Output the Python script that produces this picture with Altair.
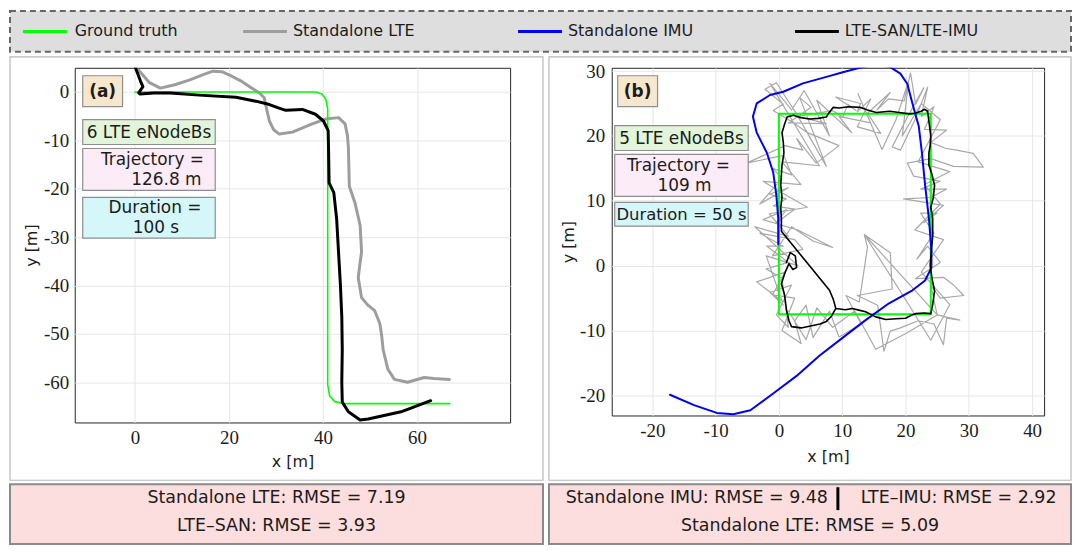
import altair as alt
import pandas as pd

SANS = "DejaVu Sans"
SERIF = "Liberation Serif"
INK = "#1c1c1c"

# ---------------- legend ----------------
legend_labels = ["Ground truth", "Standalone LTE", "Standalone IMU", "LTE-SAN/LTE-IMU"]
legend_colors = ["#00ff00", "#9d9d9d", "#0000ff", "#000000"]

# ---------------- panel (a) ----------------
gt_a_x = [0, 38.5, 39.8, 40.6, 41.0, 41.0, 41.4, 42.5, 44.5, 67.0]
gt_a_y = [0, 0, -0.4, -1.5, -3.5, -60.5, -62.8, -64.0, -64.4, -64.4]

lte_a_x = [0.8, 3.0, 5.4, 8.5, 11.7, 14.5, 16.6, 18.5, 20.1, 22.5, 24.4, 26.5, 27.5, 28.0,
           28.6, 29.5, 30.7, 33.5, 37.7, 40.5, 43.3, 44.7, 45.2, 45.4, 45.6, 46.8, 47.9, 48.2,
           47.8, 47.5, 48.2, 49.5, 51.0, 52.1, 52.5, 52.8, 53.8, 55.2, 58.0, 61.5, 63.6, 66.9]
lte_a_y = [4.5, 2.0, 0.8, 1.5, 2.5, 3.6, 4.3, 4.2, 3.5, 2.3, 1.1, -0.2, -1.2, -3.5,
           -6.0, -7.8, -8.7, -8.3, -6.6, -5.6, -5.3, -6.6, -9.0, -11.4, -19.5, -22.9, -27.6, -33.0,
           -36.0, -38.4, -42.5, -44.0, -45.2, -47.9, -50.5, -53.3, -57.3, -59.4, -60.0, -59.0, -59.2, -59.4]

san_a_x = [0.1, 0.7, 1.2, 1.7, 0.8, 1.1, 4.0, 7.5, 14.5, 21.5, 25.7, 28.6, 30.5, 32.1, 35.6,
           38.4, 40.1, 41.1, 41.2, 41.3, 42.3, 42.9, 43.3, 43.7, 44.0, 44.1, 44.0, 44.1, 45.4,
           47.9, 49.6, 56.6, 62.9]
san_a_y = [5.0, 3.5, 2.2, 1.1, -0.2, -0.4, -0.2, -0.2, -0.7, -1.1, -1.9, -2.6, -3.3, -3.8, -3.6,
           -4.6, -6.0, -8.0, -12.7, -18.8, -20.8, -26.2, -33.0, -39.8, -46.5, -53.3, -60.0, -64.1, -66.1,
           -67.8, -67.6, -66.1, -63.8]

# ---------------- panel (b) ----------------
gt_b_x = [0, 0, 24, 24, 0]
gt_b_y = [-7.5, 23.4, 23.4, -7.5, -7.5]

imu_b_x = [-17.2, -13.4, -9.8, -7.2, -4.5, -0.9, 2.8, 6.4, 10.1, 13.7, 17.4, 21.1, 23.1, 24.1,
           24.1, 23.7, 23.1, 22.6, 22.1, 21.1, 20.3, 19.2, 17.6, 15.5, 13.2, 10.1, 7.5, 3.8,
           0.7, -1.4, -3.5, -4.1, -3.5, -1.9, -0.9, -0.4, -0.1, -0.1]
imu_b_y = [-19.9, -21.5, -22.7, -22.9, -22.3, -19.7, -17.0, -13.9, -11.1, -8.4, -5.8, -3.8, -2.3, -0.3,
           2.3, 7.3, 12.4, 17.4, 21.5, 25.0, 28.0, 29.6, 30.6, 31.0, 30.6, 29.8, 29.1, 28.1,
           26.8, 26.3, 25.0, 23.0, 20.5, 17.4, 14.4, 10.9, 7.3, 3.3]

lte_b_x = [0.7, -1.4, 2.0, -0.4, 1.5, 0.5, -2.0, 1.5, -1.9, 0.7, -3.0, 2.5, 3.8, -1.0, 2.0, 5.4,
           8.5, 3.0, -2.5, 1.2, -0.5, 2.5, -0.9, 1.2, -1.5, 1.5, -3.0, 0.5, -1.0, 2.0, 0.8, -5.1,
           1.0, 3.8, 2.8, 5.9, 9.5, 4.5, 2.5, -0.9, 0.7, -2.2, -0.4, 2.8, 7.5, 3.3, 5.1, 1.5, 7.5,
           3.0, 8.5, 10.1, 10.9, 12.2, 9.0, 12.9, 12.4, 14.5, 12.4, 16.1, 14.0, 17.6, 15.5, 17.3,
           19.8, 20.8, 21.6, 22.9, 20.3, 17.9, 19.2, 21.5, 23.5, 22.5, 24.5, 23.0, 26.5, 24.0,
           26.3, 28.1, 30.7, 32.3, 27.6, 24.0, 20.3, 21.3, 25.5, 22.4, 26.5, 24.0, 19.7, 26.0,
           22.9, 25.0, 22.4, 24.5, 21.8, 23.5, 25.5, 21.6, 26.0, 27.6, 29.2, 25.5, 24.0, 25.0,
           28.6, 26.5, 26.0, 24.5, 22.0, 19.2, 17.6, 16.6, 15.6, 12.4, 17.9, 17.6, 13.5, 14.0,
           12.7, 10.6, 13.0, 9.5, 8.0, 5.4, 4.3, 2.5, 3.5, 0.5, 2.5, -1.0, 1.0,
           -3.5, 0.5, -2.0, 3.0, -3.8, 1.5, -1.5, 4.5, 0.0, -2.5, 3.5, 0.5, 6.4, -1.4, 2.0, 4.0,
           8.0, 6.0, 11.5, 9.5, 14.5, 12.5, 16.3, 18.5, 20.5, 19.5, 22.5, 25.5, 22.0, 27.0, 23.0,
           25.5, 21.5, 26.0, 22.5, 27.0, 24.0, 20.5, 13.5, 25.0, 20.0, 15.3, 12.0, 8.5, 6.0, 4.3, 1.5]
lte_b_y = [-6.1, -4.1, -3.0, -7.6, -9.5, -2.0, -0.5, 0.5, 3.0, 3.0, 5.0, 4.0, 2.5, 1.5, 6.0, 3.8,
           2.8, 5.5, 7.1, 8.6, 6.5, 8.7, 9.2, 10.3, 11.0, 12.0, 9.5, 13.5, 15.0, 14.0, 17.0, 15.8,
           18.5, 17.8, 19.6, 15.8, 18.5, 20.5, 21.9, 23.9, 24.9, 27.2, 28.2, 23.4, 15.3, 25.9, 24.4,
           22.0, 21.9, 23.0, 23.9, 22.9, 24.9, 23.9, 26.0, 25.0, 23.7, 25.7, 21.4, 20.4, 23.5, 26.7,
           24.0, 25.7, 25.4, 29.7, 24.9, 27.4, 22.9, 18.3, 17.8, 22.5, 27.5, 23.0, 24.5, 21.0, 20.9,
           19.0, 18.1, 17.8, 17.3, 15.2, 15.3, 16.5, 15.8, 13.8, 13.0, 11.8, 11.8, 10.5, 10.3, 9.3,
           6.6, 8.1, 8.1, 5.0, 1.0, 3.0, 0.5, -2.0, -1.8, -3.0, -4.6, -5.0, -3.0, -7.6,
           -8.4, -8.1, -12.2, -9.0, -8.5, -9.6, -10.1, -13.2, -6.1, -4.6, -3.6, 2.0, 4.8, 2.8,
           -5.6, -4.6, -9.0, -11.0, -7.0, -11.1, -6.1, -8.5, -12.0, -10.0, -5.0, -4.5, -1.0,
           -2.5, -5.5, 1.5, 0.0, 6.0, 4.5, 8.0, 9.0, 11.5, 13.0, 12.5, 16.0, 15.4, 28.1, 24.0, 27.0,
           20.0, 25.5, 20.5, 23.0, 22.0, 26.5, 17.9, 22.5, 28.5, 20.0, 25.0, 22.5, 16.0, 14.5, 12.5,
           9.5, 5.5, 4.0, -1.0, -6.0, -11.5, -6.0, 4.8, -7.6, -10.5, -12.9, -7.0, -9.5, -6.5, -11.4, -7.0]

imu_fused_b_x = [1.2, 1.8, 2.6, 2.8, 2.2, 1.6, 1.0, 0.4, 0.9, 1.2, 1.6, 2.0, 3.5, 5.0, 6.5, 7.5,
                 8.3, 9.0, 10.5, 11.6, 12.8, 13.7, 15.3, 16.9, 18.5, 20.0, 21.0, 21.6, 23.0, 24.0,
                 24.3, 24.6, 24.2, 23.9, 24.1, 24.3, 24.3, 24.0, 24.4, 24.6, 24.2, 23.7, 23.7, 23.9,
                 24.0, 23.8, 23.6, 23.5, 23.0, 22.5, 21.5, 20.6, 19.0, 17.5, 15.4, 14.0, 12.8, 11.0,
                 9.5, 8.6, 7.8, 7.5, 6.2, 4.9, 3.5, 2.3, 1.3, 0.9, 0.5, 0.7, 0.8, 0.5, 0.4, 0.3,
                 0.5, 0.3, 0.4, 0.4, 8.0, 8.6, 9.0]
imu_fused_b_y = [0.5, 2.0, 1.5, -0.3, -0.6, 0.3, -1.0, -2.8, -4.5, -6.8, -8.5, -9.4, -9.6, -9.3, -9.0,
                 -8.6, -7.8, -6.6, -6.8, -6.6, -6.9, -7.1, -7.9, -8.3, -8.2, -8.1, -7.6, -7.4, -7.3,
                 -7.4, -6.0, -3.9, -2.0, 0.0, 2.3, 4.5, 7.3, 9.0, 10.5, 12.4, 14.0, 15.5, 17.4, 18.5,
                 20.0, 21.5, 23.0, 23.8, 24.1, 23.8, 23.5, 23.4, 23.6, 23.8, 23.6, 24.0, 24.4, 24.5,
                 24.3, 24.4, 23.4, 22.9, 22.7, 22.6, 22.8, 23.2, 22.9, 21.8, 20.5, 19.0, 17.4, 15.5,
                 14.0, 12.4, 10.5, 9.0, 7.3, 5.3, -3.8, -5.2, -6.6]

# ---------------- text ----------------
a_tag, b_tag = "(a)", "(b)"
a_enb, b_enb = "6 LTE eNodeBs", "5 LTE eNodeBs"
a_traj = ["Trajectory =", "126.8 m"]
b_traj = ["Trajectory =", "109 m"]
a_dur = ["Duration =", "100 s"]
b_dur = "Duration = 50 s"
rmse_a = ["Standalone LTE: RMSE = 7.19", "LTE\u2013SAN: RMSE = 3.93"]
rmse_b_left = "Standalone IMU: RMSE = 9.48"
rmse_b_right = "LTE\u2013IMU: RMSE = 2.92"
rmse_b_second = "Standalone LTE: RMSE = 5.09"

a_xticks = [0, 20, 40, 60]
a_yticks = [-60, -50, -40, -30, -20, -10, 0]
b_xticks = [-20, -10, 0, 10, 20, 30, 40]
b_yticks = [-20, -10, 0, 10, 20, 30]

C_ENB, C_TRAJ, C_DUR, C_TAG = "#e2f5da", "#fcecf7", "#d5f7fa", "#f7e7cc"
BOXSTROKE = "#8e8e8e"
FRAME = "#b8b8b8"
RMSE_FILL = "#fcdede"

dummy = alt.Data(values=[{"k": 0}])


def path_df(xs, ys):
    return pd.DataFrame({"x": xs, "y": ys, "i": list(range(len(xs)))})


LABEL_EXPR = "datum.value < 0 ? '-' + format(-datum.value, 'd') : format(datum.value, 'd')"


def mk_axis(values, title, label_pad, title_pad):
    return alt.Axis(values=values, title=title, grid=True, gridColor="#e6e6e6", gridWidth=1,
                    domain=False, ticks=False, labelFont=SERIF, labelFontSize=19, labelColor=INK,
                    labelExpr=LABEL_EXPR, labelPadding=label_pad, labelFlush=False,
                    labelOverlap=False, titleFont=SANS, titleFontSize=16,
                    titleFontWeight="normal", titleColor=INK, titlePadding=title_pad)


def line(xs, ys, color, width, xsc, ysc, xax, yax):
    return alt.Chart(path_df(xs, ys)).mark_line(
        color=color, strokeWidth=width, clip=True, strokeJoin="round", strokeCap="round"
    ).encode(x=alt.X("x:Q", scale=xsc, axis=xax), y=alt.Y("y:Q", scale=ysc, axis=yax),
             order="i:Q")


def rect(x0, x1, y0, y1, fill, stroke=BOXSTROKE, sw=1.2, fo=1.0, dash=None):
    kw = dict(fill=fill, fillOpacity=fo, stroke=stroke, strokeWidth=sw)
    if dash is not None:
        kw["strokeDash"] = dash
    return alt.Chart(dummy).mark_rect(**kw).encode(
        x=alt.value(x0), x2=alt.value(x1), y=alt.value(y0), y2=alt.value(y1))


def txt(x, y, t, size=17, weight="normal", align="center", lh=20, font=SANS):
    return alt.Chart(dummy).mark_text(font=font, fontSize=size, fontWeight=weight, align=align,
                                      baseline="middle", color=INK, lineHeight=lh).encode(
        x=alt.value(x), y=alt.value(y), text=alt.value(t))


def hrule(x0, x1, y, color, w):
    return alt.Chart(dummy).mark_rule(color=color, strokeWidth=w).encode(
        x=alt.value(x0), x2=alt.value(x1), y=alt.value(y))


# ---------------- panel (a) chart (also carries the legend strip) ----------------
WA, HA = 437, 356
xa = alt.Scale(domain=[-12.8, 79.8], nice=False, zero=False)
ya = alt.Scale(domain=[-68.3, 5.0], nice=False, zero=False)
xaxa = mk_axis(a_xticks, "x [m]", 6, 6)
yaxa = mk_axis(a_yticks, "y [m]", 6, 4)

LEG_Y = -36.5
leg_line_x = [-52, 169, 445, 723]
leg_text_x = [0, 219, 495, 773]
legend_layers = [rect(-65, 1000, -57, -16, "#dedede", stroke="#666666", sw=2, dash=[6, 4])]
for lab, col, lx, tx in zip(legend_labels, legend_colors, leg_line_x, leg_text_x):
    legend_layers.append(hrule(lx, lx + 44, LEG_Y, col, 3))
    legend_layers.append(txt(tx, LEG_Y, lab, size=16, align="left"))

panel_a = alt.layer(
    *legend_layers,
    rect(-65, 470, -11, 414, "white", stroke=FRAME, sw=1.2, fo=0),
    line(lte_a_x, lte_a_y, legend_colors[1], 3, xa, ya, xaxa, yaxa),
    line(gt_a_x, gt_a_y, legend_colors[0], 1.6, xa, ya, xaxa, yaxa),
    line(san_a_x, san_a_y, legend_colors[3], 3, xa, ya, xaxa, yaxa),
    rect(8, 48, 8, 39, C_TAG),
    txt(28, 24, a_tag, size=17, weight="bold"),
    rect(8, 141, 52, 77, C_ENB),
    txt(74.5, 65, a_enb),
    rect(8, 141, 81, 123, C_TRAJ),
    txt(78, 93, a_traj[0]),
    txt(92, 113, a_traj[1]),
    rect(8, 141, 130, 171, C_DUR),
    txt(80.5, 141, a_dur[0]),
    txt(81.5, 161, a_dur[1]),
    rect(-65, 470, 418, 478, RMSE_FILL, stroke="#8a8a8a", sw=2),
    txt(202.5, 432, rmse_a[0], size=17.5),
    txt(202.5, 460, rmse_a[1], size=17.5),
).properties(width=WA, height=HA,
             view=alt.ViewBackground(fill="white", stroke="#262626", strokeWidth=1))

# ---------------- panel (b) chart ----------------
WB, HB = 434, 349
xb = alt.Scale(domain=[-26.4, 41.9], nice=False, zero=False)
yb = alt.Scale(domain=[-23.1, 30.5], nice=False, zero=False)
xaxb = mk_axis(b_xticks, "x [m]", 6, 8)
yaxb = mk_axis(b_yticks, "y [m]", 7, 3)

panel_b = alt.layer(
    rect(-63, 461, -11, 414, "white", stroke=FRAME, sw=1.2, fo=0),
    line(lte_b_x, lte_b_y, "#a8a8a8", 1.2, xb, yb, xaxb, yaxb),
    line(gt_b_x, gt_b_y, legend_colors[0], 2, xb, yb, xaxb, yaxb),
    line(imu_b_x, imu_b_y, legend_colors[2], 2, xb, yb, xaxb, yaxb),
    line(imu_fused_b_x, imu_fused_b_y, legend_colors[3], 1.6, xb, yb, xaxb, yaxb),
    rect(6, 46, 8, 39, C_TAG),
    txt(26, 24, b_tag, size=17, weight="bold"),
    rect(3, 137, 58, 83, C_ENB),
    txt(70, 71, b_enb),
    rect(3, 137, 87, 129, C_TRAJ),
    txt(67, 99, b_traj[0]),
    txt(73, 119, b_traj[1]),
    rect(3, 137, 135, 159, C_DUR),
    txt(70, 147.5, b_dur, size=16.5),
    rect(-63, 461, 418, 478, RMSE_FILL, stroke="#8a8a8a", sw=2),
    txt(217, 432, rmse_b_left, size=17.5, align="right"),
    alt.Chart(dummy).mark_rule(color="black", strokeWidth=3).encode(
        x=alt.value(227), y=alt.value(421), y2=alt.value(444)),
    txt(250, 432, rmse_b_right, size=17.5, align="left"),
    txt(199, 460, rmse_b_second, size=17.5),
).properties(width=WB, height=HB,
             view=alt.ViewBackground(fill="white", stroke="#262626", strokeWidth=1))

chart = alt.hconcat(panel_a, panel_b, spacing=102, bounds="flush").properties(
    padding=0, background="white").configure_view(stroke=None)

chart.save("out.html", embed_options={"renderer": "svg", "actions": False})
